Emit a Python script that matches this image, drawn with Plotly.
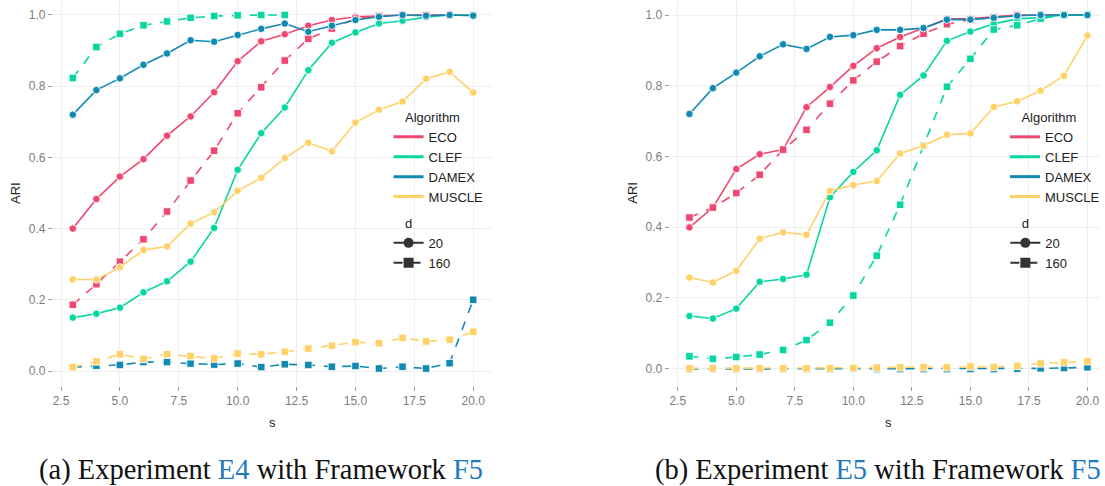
import plotly.graph_objects as go

# ---- data -------------------------------------------------------------
s_values = [3, 4, 5, 6, 7, 8, 9, 10, 11, 12, 13, 14, 15, 16, 17, 18, 19, 20]

# Experiment E4 (panel a)
eco_d20_e4 = [0.400, 0.483, 0.546, 0.595, 0.661, 0.715, 0.783, 0.870, 0.926, 0.946,
              0.970, 0.986, 0.995, 0.998, 1.000, 1.000, 1.000, 1.000]
eco_d160_e4 = [0.186, 0.244, 0.307, 0.370, 0.448, 0.535, 0.619, 0.724, 0.797, 0.872,
               0.933, 0.962, 0.990, 0.997, 1.000, 1.000, 1.000, 1.000]
clef_d20_e4 = [0.150, 0.161, 0.178, 0.221, 0.252, 0.307, 0.402, 0.565, 0.668, 0.740,
               0.845, 0.922, 0.951, 0.976, 0.984, 0.994, 1.000, 1.000]
clef_d160_e4 = [0.823, 0.910, 0.947, 0.971, 0.982, 0.992, 0.997, 0.999, 1.000, 1.000,
                None, None, None, None, None, None, None, None]
damex_d20_e4 = [0.720, 0.789, 0.822, 0.860, 0.892, 0.929, 0.925, 0.944, 0.961, 0.976,
                0.953, 0.970, 0.986, 0.995, 1.000, 0.998, 1.000, 0.998]
damex_d160_e4 = [0.011, 0.015, 0.017, 0.025, 0.025, 0.021, 0.018, 0.021, 0.011, 0.019,
                 0.017, 0.012, 0.014, 0.007, 0.012, 0.007, 0.022, 0.200]
muscle_d20_e4 = [0.257, 0.257, 0.291, 0.340, 0.350, 0.414, 0.446, 0.506, 0.543, 0.598,
                 0.641, 0.617, 0.698, 0.734, 0.757, 0.821, 0.840, 0.782]
muscle_d160_e4 = [0.011, 0.027, 0.047, 0.034, 0.047, 0.042, 0.035, 0.049, 0.047, 0.054,
                  0.063, 0.071, 0.081, 0.078, 0.093, 0.083, 0.088, 0.110]

# Experiment E5 (panel b)
eco_d20_e5 = [0.399, 0.455, 0.564, 0.606, 0.619, 0.739, 0.796, 0.856, 0.906, 0.938,
              0.963, 0.989, 0.990, 0.995, 1.000, 1.000, 1.000, 1.000]
eco_d160_e5 = [0.427, 0.455, 0.496, 0.548, 0.619, 0.675, 0.749, 0.815, 0.868, 0.912,
               0.947, 0.974, 0.987, 0.993, 1.000, 1.000, 1.000, 1.000]
clef_d20_e5 = [0.148, 0.141, 0.169, 0.245, 0.253, 0.265, 0.484, 0.556, 0.617, 0.774,
               0.829, 0.927, 0.953, 0.975, 0.989, 0.993, 1.000, 1.000]
clef_d160_e5 = [0.034, 0.027, 0.032, 0.039, 0.052, 0.080, 0.129, 0.206, 0.319, 0.463,
                0.630, 0.797, 0.876, 0.959, 0.971, 0.990, 1.000, 1.000]
damex_d20_e5 = [0.720, 0.793, 0.837, 0.883, 0.917, 0.904, 0.938, 0.943, 0.958, 0.958,
                0.963, 0.987, 0.987, 0.992, 0.998, 1.000, 1.000, 1.000]
damex_d160_e5 = [-0.002, -0.002, -0.002, -0.002, -0.002, -0.002, -0.002, -0.001, -0.002, -0.002,
                 -0.002, -0.002, -0.002, -0.002, -0.001, 0.000, 0.001, 0.003]
muscle_d20_e5 = [0.257, 0.243, 0.276, 0.367, 0.385, 0.378, 0.502, 0.519, 0.530, 0.608,
                 0.630, 0.661, 0.665, 0.740, 0.756, 0.786, 0.828, 0.942]
muscle_d160_e5 = [0.000, 0.000, 0.000, 0.000, 0.000, 0.000, 0.000, 0.001, 0.002, 0.003,
                  0.003, 0.003, 0.005, 0.004, 0.007, 0.014, 0.017, 0.020]

algorithms = ["ECO", "CLEF", "DAMEX", "MUSCLE"]
d_levels = ["20", "160"]
x_tick_values = [2.5, 5.0, 7.5, 10.0, 12.5, 15.0, 17.5, 20.0]
y_tick_values = [0.0, 0.2, 0.4, 0.6, 0.8, 1.0]

panel_series = {
    "a": {
        "ECO": (eco_d20_e4, eco_d160_e4),
        "CLEF": (clef_d20_e4, clef_d160_e4),
        "DAMEX": (damex_d20_e4, damex_d160_e4),
        "MUSCLE": (muscle_d20_e4, muscle_d160_e4),
    },
    "b": {
        "ECO": (eco_d20_e5, eco_d160_e5),
        "CLEF": (clef_d20_e5, clef_d160_e5),
        "DAMEX": (damex_d20_e5, damex_d160_e5),
        "MUSCLE": (muscle_d20_e5, muscle_d160_e5),
    },
}

# ---- styling ----------------------------------------------------------
W, H = 1105, 486
colors = {"ECO": "#EF476F", "CLEF": "#06D6A0", "DAMEX": "#118AB2", "MUSCLE": "#FFD166"}
dash_for = {"20": "solid", "160": "dash"}
symbol_for = {"20": "circle", "160": "square"}
SANS = "Liberation Sans, Arial, sans-serif"
TICK_GREY = "#7d7d7d"
GRID = "#efefef"


def px_x(p):
    return p / W


def px_y(p):
    return 1 - p / H


# panel geometry (pixels) and axis ranges
panels = {
    "a": dict(xaxis="x", yaxis="y", left=53, right=495,
              xrange=[2.15, 20.85], yrange=[-0.0421, 1.0421],
              legends=("legend", "legend2")),
    "b": dict(xaxis="x2", yaxis="y2", left=672, right=1105,
              xrange=[2.15, 20.58], yrange=[-0.050, 1.0425],
              legends=("legend3", "legend4")),
}
PLOT_TOP, PLOT_BOTTOM = 0, 386

fig = go.Figure()

for key, panel in panels.items():
    series = panel_series[key]
    for alg in algorithms:
        for d_idx, d in enumerate(d_levels):
            fig.add_trace(go.Scatter(
                x=s_values, y=series[alg][d_idx],
                mode="lines+markers",
                line=dict(color=colors[alg], width=1.6, dash=dash_for[d]),
                marker=dict(symbol=symbol_for[d], size=7.5, color=colors[alg],
                            line=dict(color="rgba(255,255,255,0.85)", width=1)),
                xaxis=panel["xaxis"], yaxis=panel["yaxis"],
                showlegend=False, connectgaps=False,
                name=f"{alg} d={d}",
            ))
    # legend keys: colour (Algorithm) and linetype / shape (d)
    leg_alg, leg_d = panel["legends"]
    for alg in algorithms:
        fig.add_trace(go.Scatter(
            x=[None], y=[None], mode="lines", name=alg,
            line=dict(color=colors[alg], width=3),
            xaxis=panel["xaxis"], yaxis=panel["yaxis"],
            legend=leg_alg, showlegend=True,
        ))
    for d in d_levels:
        fig.add_trace(go.Scatter(
            x=[None], y=[None], mode="lines+markers", name=d,
            line=dict(color="#333333", width=2, dash=dash_for[d]),
            marker=dict(symbol=symbol_for[d], size=10, color="#333333"),
            xaxis=panel["xaxis"], yaxis=panel["yaxis"],
            legend=leg_d, showlegend=True,
        ))

axis_common = dict(
    showgrid=True, gridcolor=GRID, gridwidth=1,
    zeroline=False, showline=False,
    ticks="outside", ticklen=4, tickwidth=1, tickcolor="#9a9a9a",
    tickfont=dict(family=SANS, size=12, color=TICK_GREY),
    tickformat=".1f",
)

layout = dict(
    width=W, height=H,
    margin=dict(l=0, r=0, t=0, b=0),
    paper_bgcolor="white", plot_bgcolor="white",
    font=dict(family=SANS, color="#222222"),
    hovermode=False,
)

for key, panel in panels.items():
    suffix = "" if key == "a" else "2"
    layout["xaxis" + suffix] = dict(
        axis_common,
        domain=[px_x(panel["left"]), px_x(panel["right"])],
        range=panel["xrange"], tickvals=x_tick_values,
        anchor="y" + suffix,
    )
    layout["yaxis" + suffix] = dict(
        axis_common,
        domain=[px_y(PLOT_BOTTOM), px_y(PLOT_TOP)],
        range=panel["yrange"], tickvals=y_tick_values,
        anchor="x" + suffix,
    )
    leg_alg, leg_d = panel["legends"]
    off = panel["left"] - 53
    legend_common = dict(
        xanchor="left", yanchor="top", bgcolor="rgba(0,0,0,0)",
        font=dict(family=SANS, size=13, color="#222222"),
        itemwidth=30, tracegroupgap=0,
        itemclick=False, itemdoubleclick=False,
    )
    layout[leg_alg] = dict(
        legend_common, x=px_x(390 + off), y=px_y(105),
        title=dict(text="&nbsp;&nbsp;&nbsp;&nbsp;Algorithm", side="top",
                   font=dict(family=SANS, size=13, color="#222222")),
    )
    layout[leg_d] = dict(
        legend_common, x=px_x(390 + off), y=px_y(211),
        title=dict(text="&nbsp;&nbsp;&nbsp;&nbsp;d", side="top",
                   font=dict(family=SANS, size=13, color="#222222")),
    )

fig.update_layout(**layout)

annotations = []
for key, panel in panels.items():
    mid = 273 if key == "a" else 892
    # axis titles
    annotations.append(dict(
        text="s", x=px_x(mid), y=px_y(422), xref="paper", yref="paper",
        showarrow=False, xanchor="center", yanchor="middle",
        font=dict(family=SANS, size=13, color="#222222"),
    ))
    annotations.append(dict(
        text="ARI", x=px_x(panel["left"] - 38), y=px_y(193), xref="paper", yref="paper",
        showarrow=False, xanchor="center", yanchor="middle", textangle=-90,
        font=dict(family=SANS, size=13, color="#222222"),
    ))

BLUE = "#1F7AC0"
captions = [
    (37, "(a) Experiment <span style='color:%s'>E4</span> with Framework "
         "<span style='color:%s'>F5</span>" % (BLUE, BLUE)),
    (655, "(b) Experiment <span style='color:%s'>E5</span> with Framework "
          "<span style='color:%s'>F5</span>" % (BLUE, BLUE)),
]
for left, text in captions:
    annotations.append(dict(
        text=text, x=px_x(left), y=px_y(470), xref="paper", yref="paper",
        showarrow=False, xanchor="left", yanchor="middle",
        font=dict(family="Liberation Serif, DejaVu Serif, serif", size=28.5, color="#111111"),
    ))

fig.update_layout(annotations=annotations)

fig.write_html("out.html")
